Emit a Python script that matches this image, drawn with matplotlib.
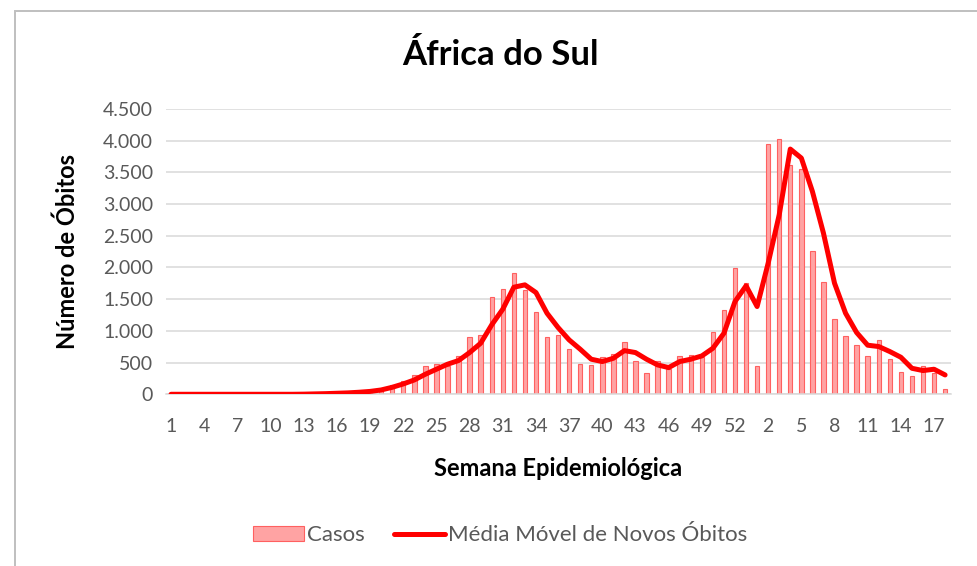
#!/usr/bin/env python3
"""Mortes semanais na África do Sul: barras semanais + média móvel."""

import numpy as np
import matplotlib
matplotlib.use("Agg")
import matplotlib.pyplot as plt
from matplotlib.patches import Rectangle

# semanas epidemiológicas: 2020 (1..53) seguido de 2021 (1..18)
weeks = list(range(1, 54)) + list(range(1, 19))

casos = [
    0, 0, 0, 0, 0, 0, 0, 0, 0, 0,
    0, 0, 2, 10, 20, 30, 35, 45, 60, 85,
    140, 210, 300, 450, 475, 450, 610, 910, 940, 1540,
    1660, 1910, 1650, 1295, 900, 930, 710, 485, 455, 595,
    640, 830, 525, 342, 525, 400, 605, 621, 584, 989,
    1332, 1995, 1753, 440, 3953, 4032, 3611, 3553, 2268, 1768,
    1189, 926, 784, 610, 858, 563, 345, 287, 442, 342,
    82,
]

media_movel = [
    0, 0, 0, 0, 0, 0, 0, 0, 0, 0,
    0, 0, 2, 6, 10, 16, 22, 32, 45, 68,
    110, 163, 226, 316, 395, 474, 532, 658, 805, 1095,
    1342, 1689, 1726, 1605, 1279, 1053, 858, 711, 553, 516,
    568, 689, 658, 553, 463, 421, 516, 553, 605, 726,
    963, 1463, 1711, 1384, 2068, 2832, 3868, 3726, 3200, 2542,
    1753, 1279, 974, 774, 753, 674, 584, 410, 374, 395,
    305,
]

yticks = [0, 500, 1000, 1500, 2000, 2500, 3000, 3500, 4000, 4500]

plt.rcParams["font.family"] = ["Lato", "DejaVu Sans"]

fig = plt.figure(figsize=(9.77, 5.66), dpi=100)
ax = fig.add_axes([0.1694, 0.3034, 0.8036, 0.504])

x = np.arange(len(weeks))
bars = ax.bar(x, casos, width=0.4, color="#FFA3A3", edgecolor="#FF6060",
              linewidth=0.8, label="Casos", zorder=2)
line, = ax.plot(x, media_movel, color="#FF0000", lw=3.6,
                solid_capstyle="round", solid_joinstyle="round",
                label="Média Móvel de Novos Óbitos", zorder=3)

ax.set_xlim(-0.5, len(weeks) - 0.5)
ax.set_ylim(0, 4500)
ax.set_yticks(yticks)
ax.set_yticklabels([f"{v:,}".replace(",", ".") for v in yticks])
ax.set_xticks(x[::3])
ax.set_xticklabels([str(w) for w in weeks[::3]])

ax.grid(axis="y", color="#D9D9D9", lw=1.1, zorder=0)
ax.set_axisbelow(True)
for side in ["top", "right", "left"]:
    ax.spines[side].set_visible(False)
ax.spines["bottom"].set_color("#D9D9D9")
ax.spines["bottom"].set_linewidth(1.1)
ax.tick_params(length=0, labelsize=14, colors="#595959")
ax.tick_params(axis="x", pad=17)
ax.tick_params(axis="y", pad=9)

ax.set_xlabel("Semana Epidemiológica", fontsize=17, fontweight="bold")
ax.xaxis.set_label_coords(0.5, -0.22)
ax.set_ylabel("Número de Óbitos", fontsize=17, fontweight="bold")
ax.yaxis.set_label_coords(-0.11, 0.5)
fig.text(0.512, 0.903, "África do Sul", ha="center", va="center",
         fontsize=25, fontweight="bold")

leg = fig.legend(handles=[bars, line], loc="center",
                 bbox_to_anchor=(0.512, 0.054), ncol=2, frameon=False,
                 fontsize=16, handlelength=2.3, handleheight=0.7,
                 handletextpad=0.15, columnspacing=1.3)
for t in leg.get_texts():
    t.set_color("#595959")

# moldura do gráfico
fig.add_artist(Rectangle((15 / 977, -0.1), 1.2, 1 - 11 / 566 + 0.1,
                         transform=fig.transFigure, fill=False,
                         edgecolor="#BFBFBF", lw=1.4))

fig.savefig("out.png", dpi=100)
